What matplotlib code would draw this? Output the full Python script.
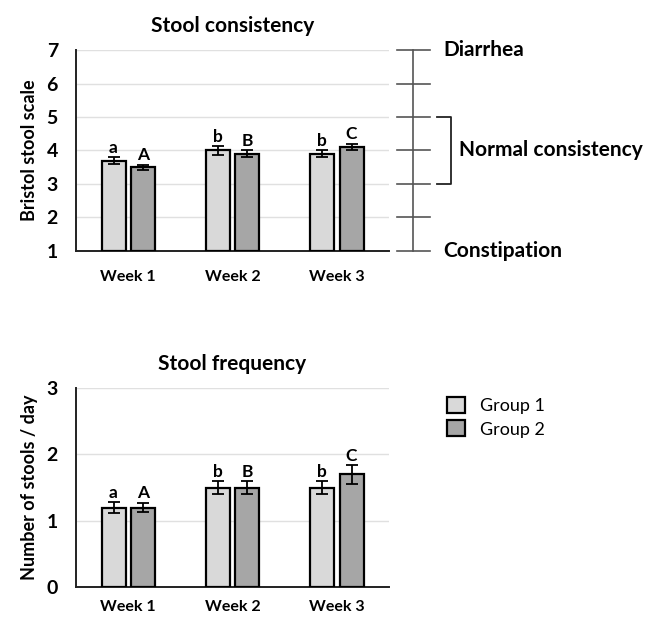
import matplotlib
matplotlib.use("Agg")
import matplotlib.pyplot as plt
import matplotlib.transforms as mtransforms
import numpy as np

plt.rcParams['font.family'] = ['Lato', 'DejaVu Sans']

weeks = ["Week 1", "Week 2", "Week 3"]
groups = ["Group 1", "Group 2"]

cons_g1 = [3.7, 4.0, 3.9]
cons_g2 = [3.5, 3.9, 4.1]
cons_err_g1 = [0.1, 0.13, 0.1]
cons_err_g2 = [0.08, 0.1, 0.1]
cons_lab_g1 = ["a", "b", "b"]
cons_lab_g2 = ["A", "B", "C"]

freq_g1 = [1.2, 1.5, 1.5]
freq_g2 = [1.2, 1.5, 1.7]
freq_err_g1 = [0.08, 0.1, 0.1]
freq_err_g2 = [0.07, 0.1, 0.14]
freq_lab_g1 = ["a", "b", "b"]
freq_lab_g2 = ["A", "B", "C"]

cons_ticks = [1, 2, 3, 4, 5, 6, 7]
freq_ticks = [0, 1, 2, 3]

colors = ["#d9d9d9", "#a6a6a6"]

fig = plt.figure(figsize=(6.51, 6.18), dpi=100)
ax1 = fig.add_axes([0.1167, 0.594, 0.481, 0.325])
ax2 = fig.add_axes([0.1167, 0.050, 0.481, 0.322])

x = np.arange(len(weeks))
w = 0.23
off = 0.14

def draw(ax, g1, g2, e1, e2, l1, l2, ticks, ylabel, title, xpad):
    base = ticks[0]
    for vals, errs, labs, c, sgn, name in [(g1, e1, l1, colors[0], -1, groups[0]),
                                             (g2, e2, l2, colors[1], 1, groups[1])]:
        xs = x + sgn * off
        ax.bar(xs, np.array(vals) - base, width=w, bottom=base, color=c,
               edgecolor="black", linewidth=1.6, label=name, zorder=3)
        ax.errorbar(xs, vals, yerr=errs, fmt="none", ecolor="black",
                    elinewidth=1.3, capsize=4, capthick=1.3, zorder=4)
        for xi, v, e, t in zip(xs, vals, errs, labs):
            ax.annotate(t, (xi, v + e), xytext=(0, 1.0), textcoords="offset points",
                        ha="center", va="bottom", fontsize=12.5, fontweight="bold")
    ax.set_xlim(-0.5, 2.5)
    ax.set_ylim(ticks[0], ticks[-1])
    ax.set_yticks(ticks)
    ax.set_yticklabels([str(t) for t in ticks], fontsize=14, fontweight="bold")
    ax.set_xticks(x)
    ax.set_xticklabels(weeks, fontsize=11.5, fontweight="bold")
    ax.tick_params(axis="both", length=0)
    ax.tick_params(axis="y", pad=13)
    ax.tick_params(axis="x", pad=xpad)
    ax.grid(axis="y", color="#e0e0e0", linewidth=1.0, zorder=0)
    ax.set_axisbelow(True)
    for s in ["top", "right"]:
        ax.spines[s].set_visible(False)
    for s in ["left", "bottom"]:
        ax.spines[s].set_color("#222222")
        ax.spines[s].set_linewidth(1.4)
    ax.set_ylabel(ylabel, fontsize=13, fontweight="bold", labelpad=6)
    ax.set_title(title, fontsize=15, fontweight="bold", pad=13)

draw(ax1, cons_g1, cons_g2, cons_err_g1, cons_err_g2, cons_lab_g1, cons_lab_g2,
     cons_ticks, "Bristol stool scale", "Stool consistency", 14)
draw(ax2, freq_g1, freq_g2, freq_err_g1, freq_err_g2, freq_lab_g1, freq_lab_g2,
     freq_ticks, "Number of stools / day", "Stool frequency", 9)

# right-hand Bristol scale
tr = mtransforms.blended_transform_factory(ax1.transAxes, ax1.transData)
ax1.plot([1.077, 1.077], [1, 7], color="#555555", lw=1.2, transform=tr, clip_on=False)
for t in cons_ticks:
    ax1.plot([1.026, 1.131], [t, t], color="#555555", lw=1.2, transform=tr, clip_on=False)
ax1.plot([1.153, 1.198, 1.198, 1.153], [5, 5, 3, 3], color="#222222", lw=1.3,
         transform=tr, clip_on=False)
ax1.text(1.173, 7, "Diarrhea", transform=tr, fontsize=15, fontweight="bold",
         ha="left", va="center")
ax1.text(1.224, 4, "Normal consistency", transform=tr, fontsize=15, fontweight="bold",
         ha="left", va="center")
ax1.text(1.173, 1, "Constipation", transform=tr, fontsize=15, fontweight="bold",
         ha="left", va="center")

handles, labels = ax2.get_legend_handles_labels()
fig.legend(handles, labels, loc="upper left", bbox_to_anchor=(0.687, 0.358),
           frameon=False, fontsize=13, handlelength=1.0, handleheight=1.0,
           handletextpad=0.8, labelspacing=0.35, borderpad=0, borderaxespad=0)

fig.savefig("out.png", dpi=100)
